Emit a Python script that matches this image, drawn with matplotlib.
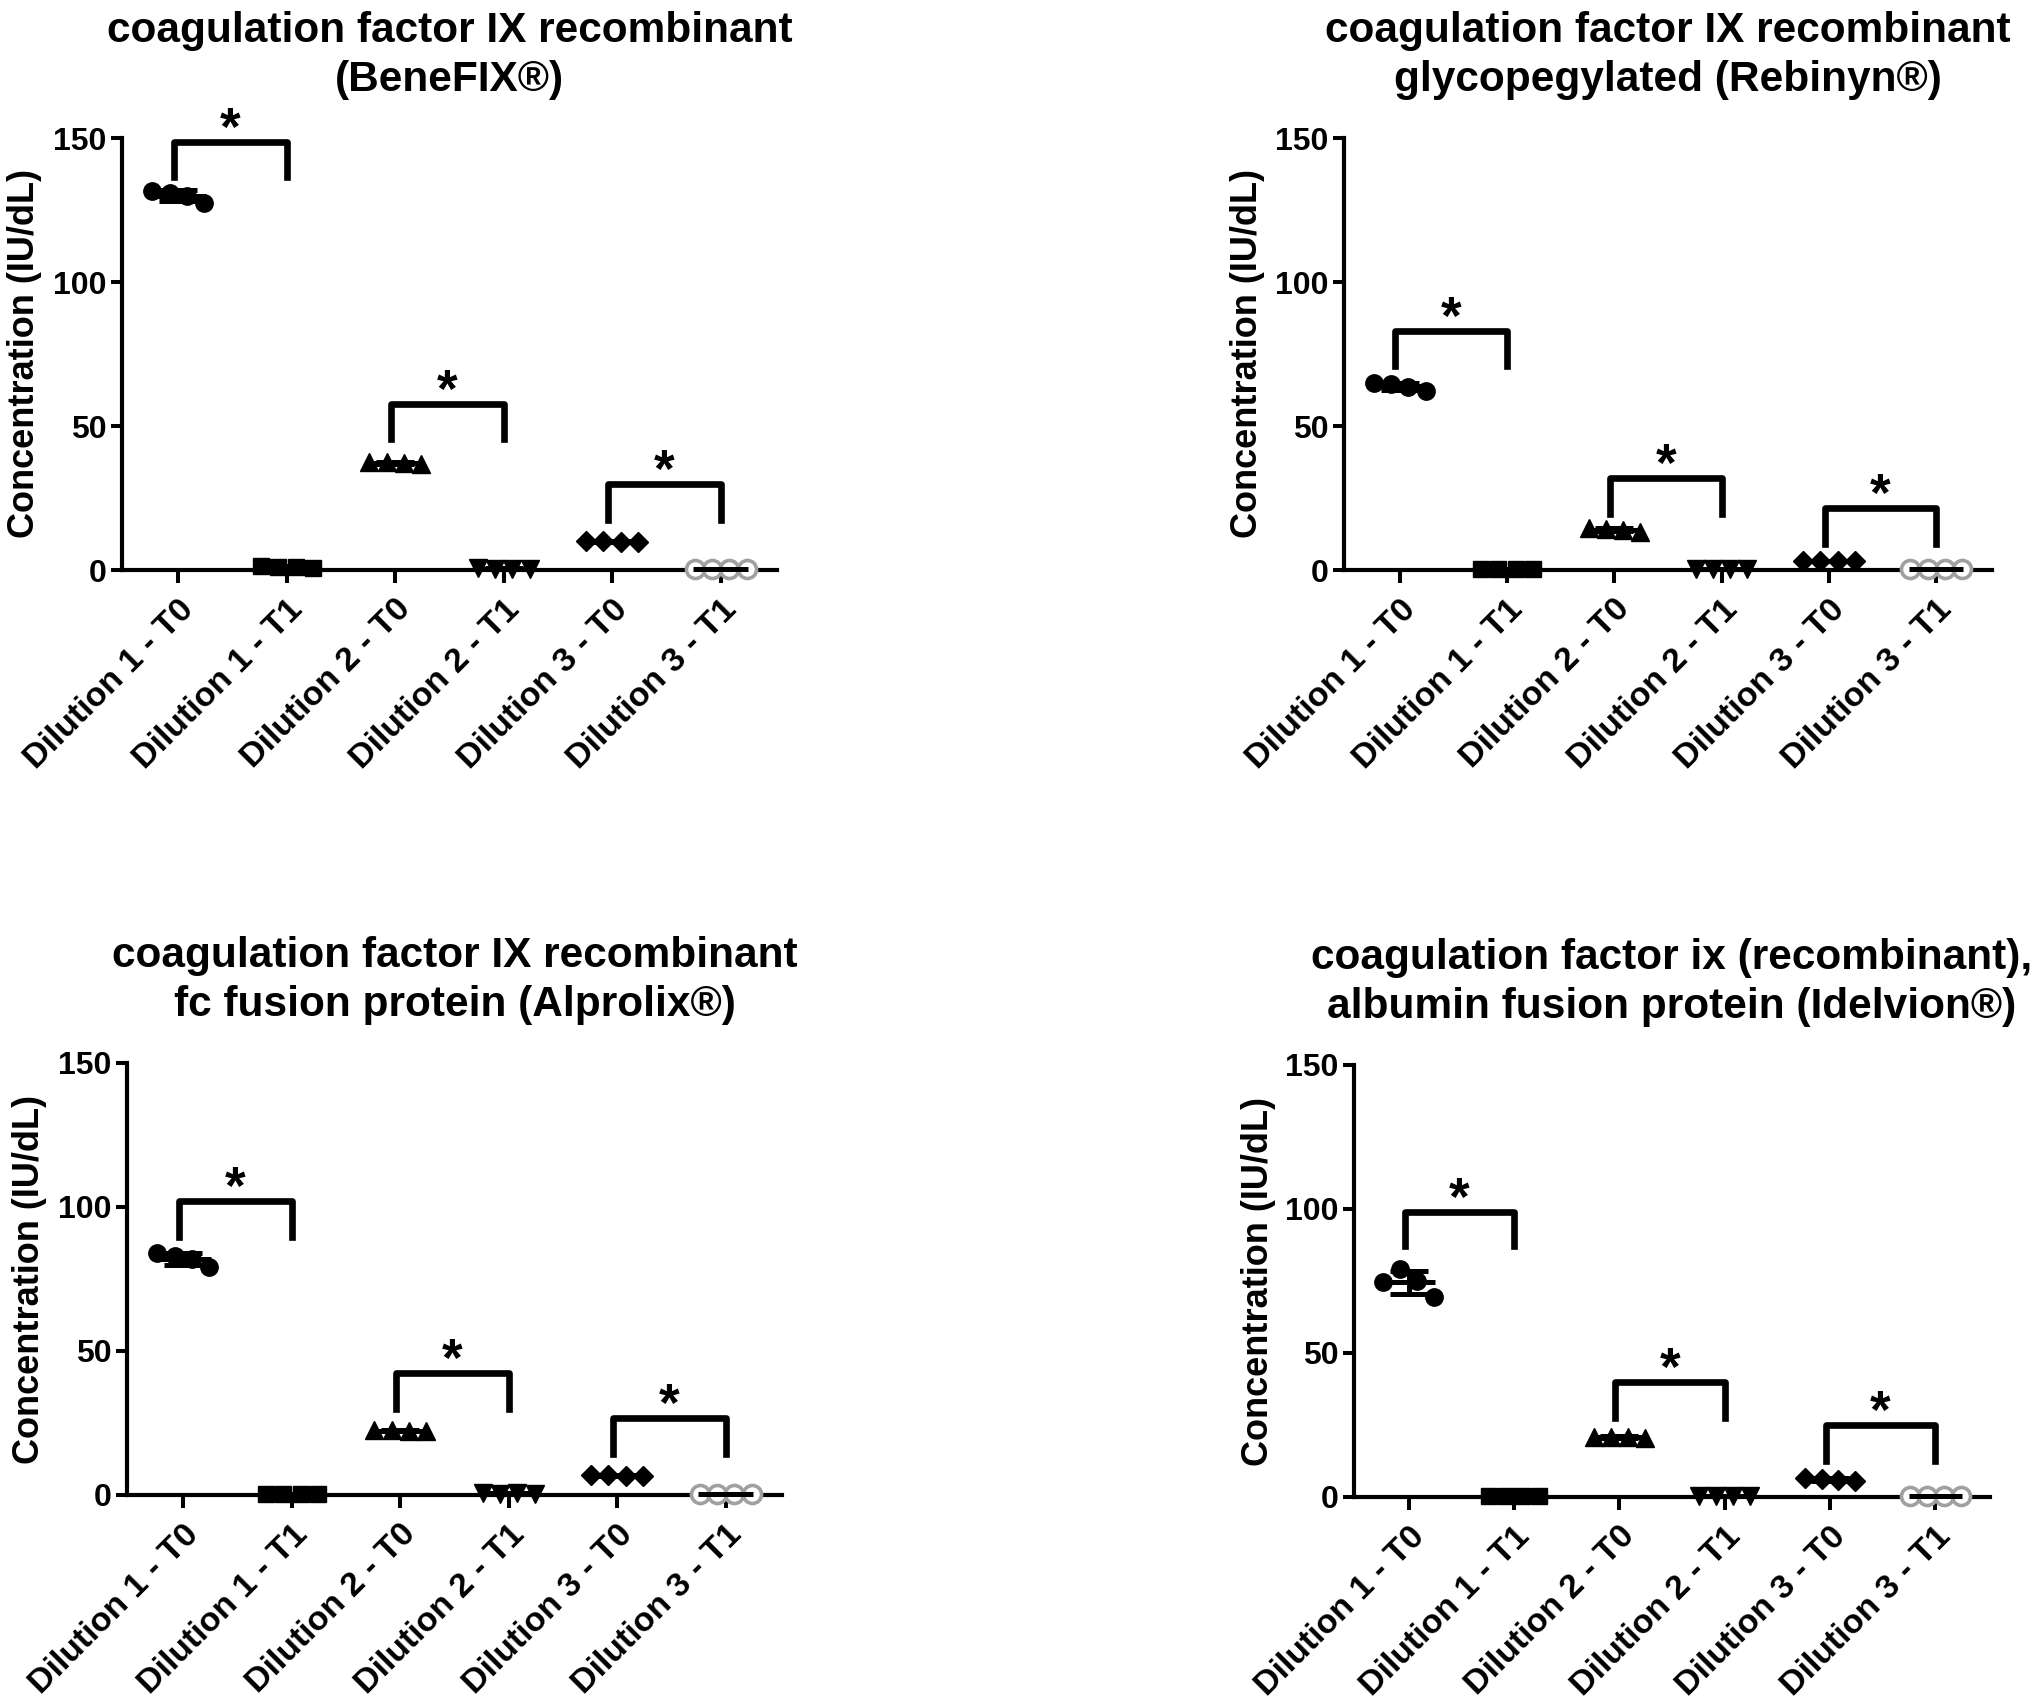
import matplotlib

matplotlib.use("Agg")
import matplotlib.pyplot as plt

FONT = ["Liberation Sans", "DejaVu Sans"]
plt.rcParams["font.family"] = FONT

W, H = 2040, 1698

CATEGORIES = [
    "Dilution 1 - T0",
    "Dilution 1 - T1",
    "Dilution 2 - T0",
    "Dilution 2 - T1",
    "Dilution 3 - T0",
    "Dilution 3 - T1",
]

TITLES = [
    "coagulation factor IX recombinant\n(BeneFIX®)",
    "coagulation factor IX recombinant\nglycopegylated (Rebinyn®)",
    "coagulation factor IX recombinant\nfc fusion protein (Alprolix®)",
    "coagulation factor ix (recombinant),\nalbumin fusion protein (Idelvion®)",
]

# replicate values per group (4 per group), IU/dL
BENEFIX = [
    [131.5, 131.0, 130.0, 127.5],
    [1.5, 1.2, 1.0, 0.6],
    [37.5, 37.5, 37.2, 36.8],
    [0.6, 0.5, 0.4, 0.5],
    [10.0, 10.0, 9.8, 9.8],
    [0.3, 0.3, 0.3, 0.3],
]
REBINYN = [
    [65.0, 64.5, 63.5, 62.0],
    [0.2, 0.2, 0.2, 0.2],
    [14.5, 14.2, 14.0, 13.2],
    [0.5, 0.3, 0.4, 0.3],
    [3.2, 3.0, 3.0, 3.2],
    [0.2, 0.2, 0.2, 0.2],
]
ALPROLIX = [
    [84.0, 83.0, 82.0, 79.0],
    [0.2, 0.2, 0.2, 0.2],
    [22.5, 22.5, 22.3, 22.2],
    [0.8, 0.5, 0.6, 0.5],
    [6.8, 6.8, 6.6, 6.6],
    [0.3, 0.3, 0.3, 0.3],
]
IDELVION = [
    [74.5, 79.0, 75.0, 69.5],
    [0.2, 0.2, 0.2, 0.2],
    [21.0, 21.0, 20.8, 20.6],
    [0.5, 0.4, 0.4, 0.3],
    [6.5, 6.2, 6.0, 5.6],
    [0.3, 0.3, 0.3, 0.3],
]

# significance brackets: (top, leg bottom) for dilution 1, 2, 3
BRACKETS = [
    [(148.5, 136.5), (57.5, 45.5), (30.0, 17.5)],
    [(83.0, 71.0), (32.0, 19.5), (21.5, 9.0)],
    [(102.0, 89.5), (42.3, 30.0), (26.8, 14.3)],
    [(99.0, 87.0), (40.0, 27.5), (25.0, 12.5)],
]

PANELS = [BENEFIX, REBINYN, ALPROLIX, IDELVION]

# axes boxes in pixels: left, y of 150, y of 0, width
AX_BOX = [
    (122, 138, 570, 655),
    (1344, 138, 570, 648),
    (127, 1063, 1495, 655),
    (1354, 1065, 1497, 636),
]

MARKERS = ["o", "s", "^", "v", "D", "o"]
OFFSETS = [-0.24, -0.08, 0.08, 0.24]


def draw_panel(ax, values, brackets, title):
    for i, grp in enumerate(values):
        xs = [i + o for o in OFFSETS]
        if i == 5:
            ax.plot(xs, grp, ls="none", marker="o", ms=13, mfc="white",
                    mec="#a0a0a0", mew=2.6, clip_on=False, zorder=4)
        else:
            ms = {"o": 12.5, "s": 12, "^": 13, "v": 13, "D": 10}[MARKERS[i]]
            ax.plot(xs, grp, ls="none", marker=MARKERS[i], ms=ms,
                    color="black", clip_on=False, zorder=4)
        mean = sum(grp) / len(grp)
        sd = (sum((v - mean) ** 2 for v in grp) / (len(grp) - 1)) ** 0.5
        ax.hlines(mean, i - 0.25, i + 0.25, color="black", lw=3.6,
                  zorder=5, clip_on=False)
        ax.errorbar(i, mean, yerr=sd, fmt="none", ecolor="black",
                    elinewidth=3.6, capsize=14, capthick=3.6, zorder=5,
                    clip_on=False)

    for k, (top, leg) in enumerate(brackets):
        x0, x1 = 2 * k - 0.04, 2 * k + 1
        ax.plot([x0, x0, x1, x1], [leg, top, top, leg], color="black",
                lw=4.8, solid_joinstyle="round", clip_on=False, zorder=3)
        ax.text((x0 + x1) / 2, top - 1.0, "*", ha="center", va="baseline",
                fontsize=38, fontweight="bold", clip_on=False)

    ax.set_xlim(-0.52, 5.52)
    ax.set_ylim(0, 150)
    ax.set_yticks([0, 50, 100, 150])
    ax.set_xticks(range(len(CATEGORIES)))
    ax.set_xticklabels(CATEGORIES, rotation=45, ha="right",
                       rotation_mode="anchor", fontsize=24.5,
                       fontweight="bold")
    for lab in ax.get_yticklabels():
        lab.set_fontsize(23)
        lab.set_fontweight("bold")
    ax.tick_params(axis="both", width=2.9, length=8, direction="out",
                   color="black")
    ax.tick_params(axis="x", pad=8, length=9)
    ax.tick_params(axis="y", pad=3)
    for side in ("top", "right"):
        ax.spines[side].set_visible(False)
    for side in ("left", "bottom"):
        ax.spines[side].set_linewidth(3.0)
    ax.set_ylabel("Concentration (IU/dL)", fontsize=26, fontweight="bold")
    ax.yaxis.set_label_coords(-0.122, 0.5)
    ax.set_title(title, fontsize=30.5, fontweight="bold", pad=34,
                 linespacing=1.27)


fig = plt.figure(figsize=(W / 100, H / 100), dpi=100, facecolor="white")
for values, brackets, title, (left, ytop, ybot, width) in zip(
    PANELS, BRACKETS, TITLES, AX_BOX
):
    ax = fig.add_axes([left / W, (H - ybot) / H, width / W, (ybot - ytop) / H])
    draw_panel(ax, values, brackets, title)

fig.savefig("out.png", dpi=100, facecolor="white")
